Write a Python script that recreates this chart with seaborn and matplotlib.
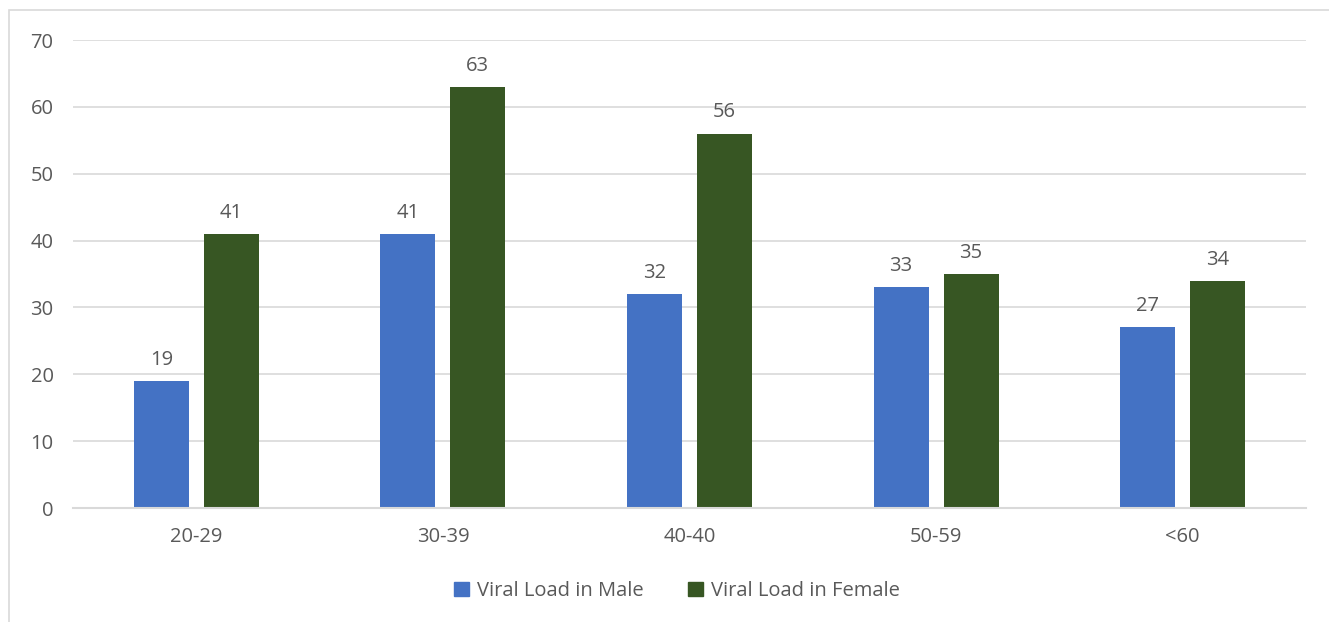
import matplotlib
matplotlib.use("Agg")
import matplotlib.pyplot as plt
import seaborn as sns
import pandas as pd
from matplotlib.patches import Rectangle, Patch

categories = ["20-29", "30-39", "40-40", "50-59", "<60"]
male = [19, 41, 32, 33, 27]
female = [41, 63, 56, 35, 34]
series_names = ["Viral Load in Male", "Viral Load in Female"]
colors = ["#4472C4", "#375623"]

df = pd.DataFrame({
    "cat": categories * 2,
    "val": male + female,
    "series": [series_names[0]] * 5 + [series_names[1]] * 5,
})

sns.set_theme(style="white")
plt.rcParams['font.family'] = ['Open Sans', 'DejaVu Sans']
txt = "#595959"
fs = 14.5

fig = plt.figure(figsize=(13.29, 6.22), dpi=100)
ax = fig.add_axes([73/1329, 1 - 508/622, (1306-73)/1329, (508-40)/622])

sns.barplot(data=df, x="cat", y="val", hue="series", palette=colors,
            width=0.568, gap=0.215, ax=ax, legend=False, saturation=1,
            linewidth=0)

ax.set_ylim(0, 70)
ax.set_xlim(-0.5, 4.5)
ax.set_yticks(range(0, 71, 10))
ax.yaxis.grid(True, color="#d9d9d9", linewidth=1.2)
ax.set_axisbelow(True)
for s in ["top", "right", "left"]:
    ax.spines[s].set_visible(False)
ax.spines["bottom"].set_color("#d9d9d9")
ax.spines["bottom"].set_linewidth(1.5)
ax.set_xlabel("")
ax.set_ylabel("")
ax.tick_params(axis="y", length=0, pad=14, labelsize=fs, labelcolor=txt)
ax.tick_params(axis="x", length=0, pad=14, labelsize=fs, labelcolor=txt)

for cont in ax.containers:
    ax.bar_label(cont, padding=8, fontsize=fs, color=txt)

handles = [Patch(color=c, label=n) for c, n in zip(colors, series_names)]
fig.legend(handles=handles, loc="center", bbox_to_anchor=(677/1329, 1 - 591/622),
           ncol=2, frameon=False, fontsize=fs, labelcolor=txt,
           handlelength=0.75, handleheight=0.75, handletextpad=0.4, columnspacing=2.2)

fig.patches.append(Rectangle((9/1329, -0.1), 1.2, 1 - 10/622 + 0.1,
                             transform=fig.transFigure, fill=False,
                             edgecolor="#d9d9d9", linewidth=1.2))

fig.savefig("out.png", dpi=100)
